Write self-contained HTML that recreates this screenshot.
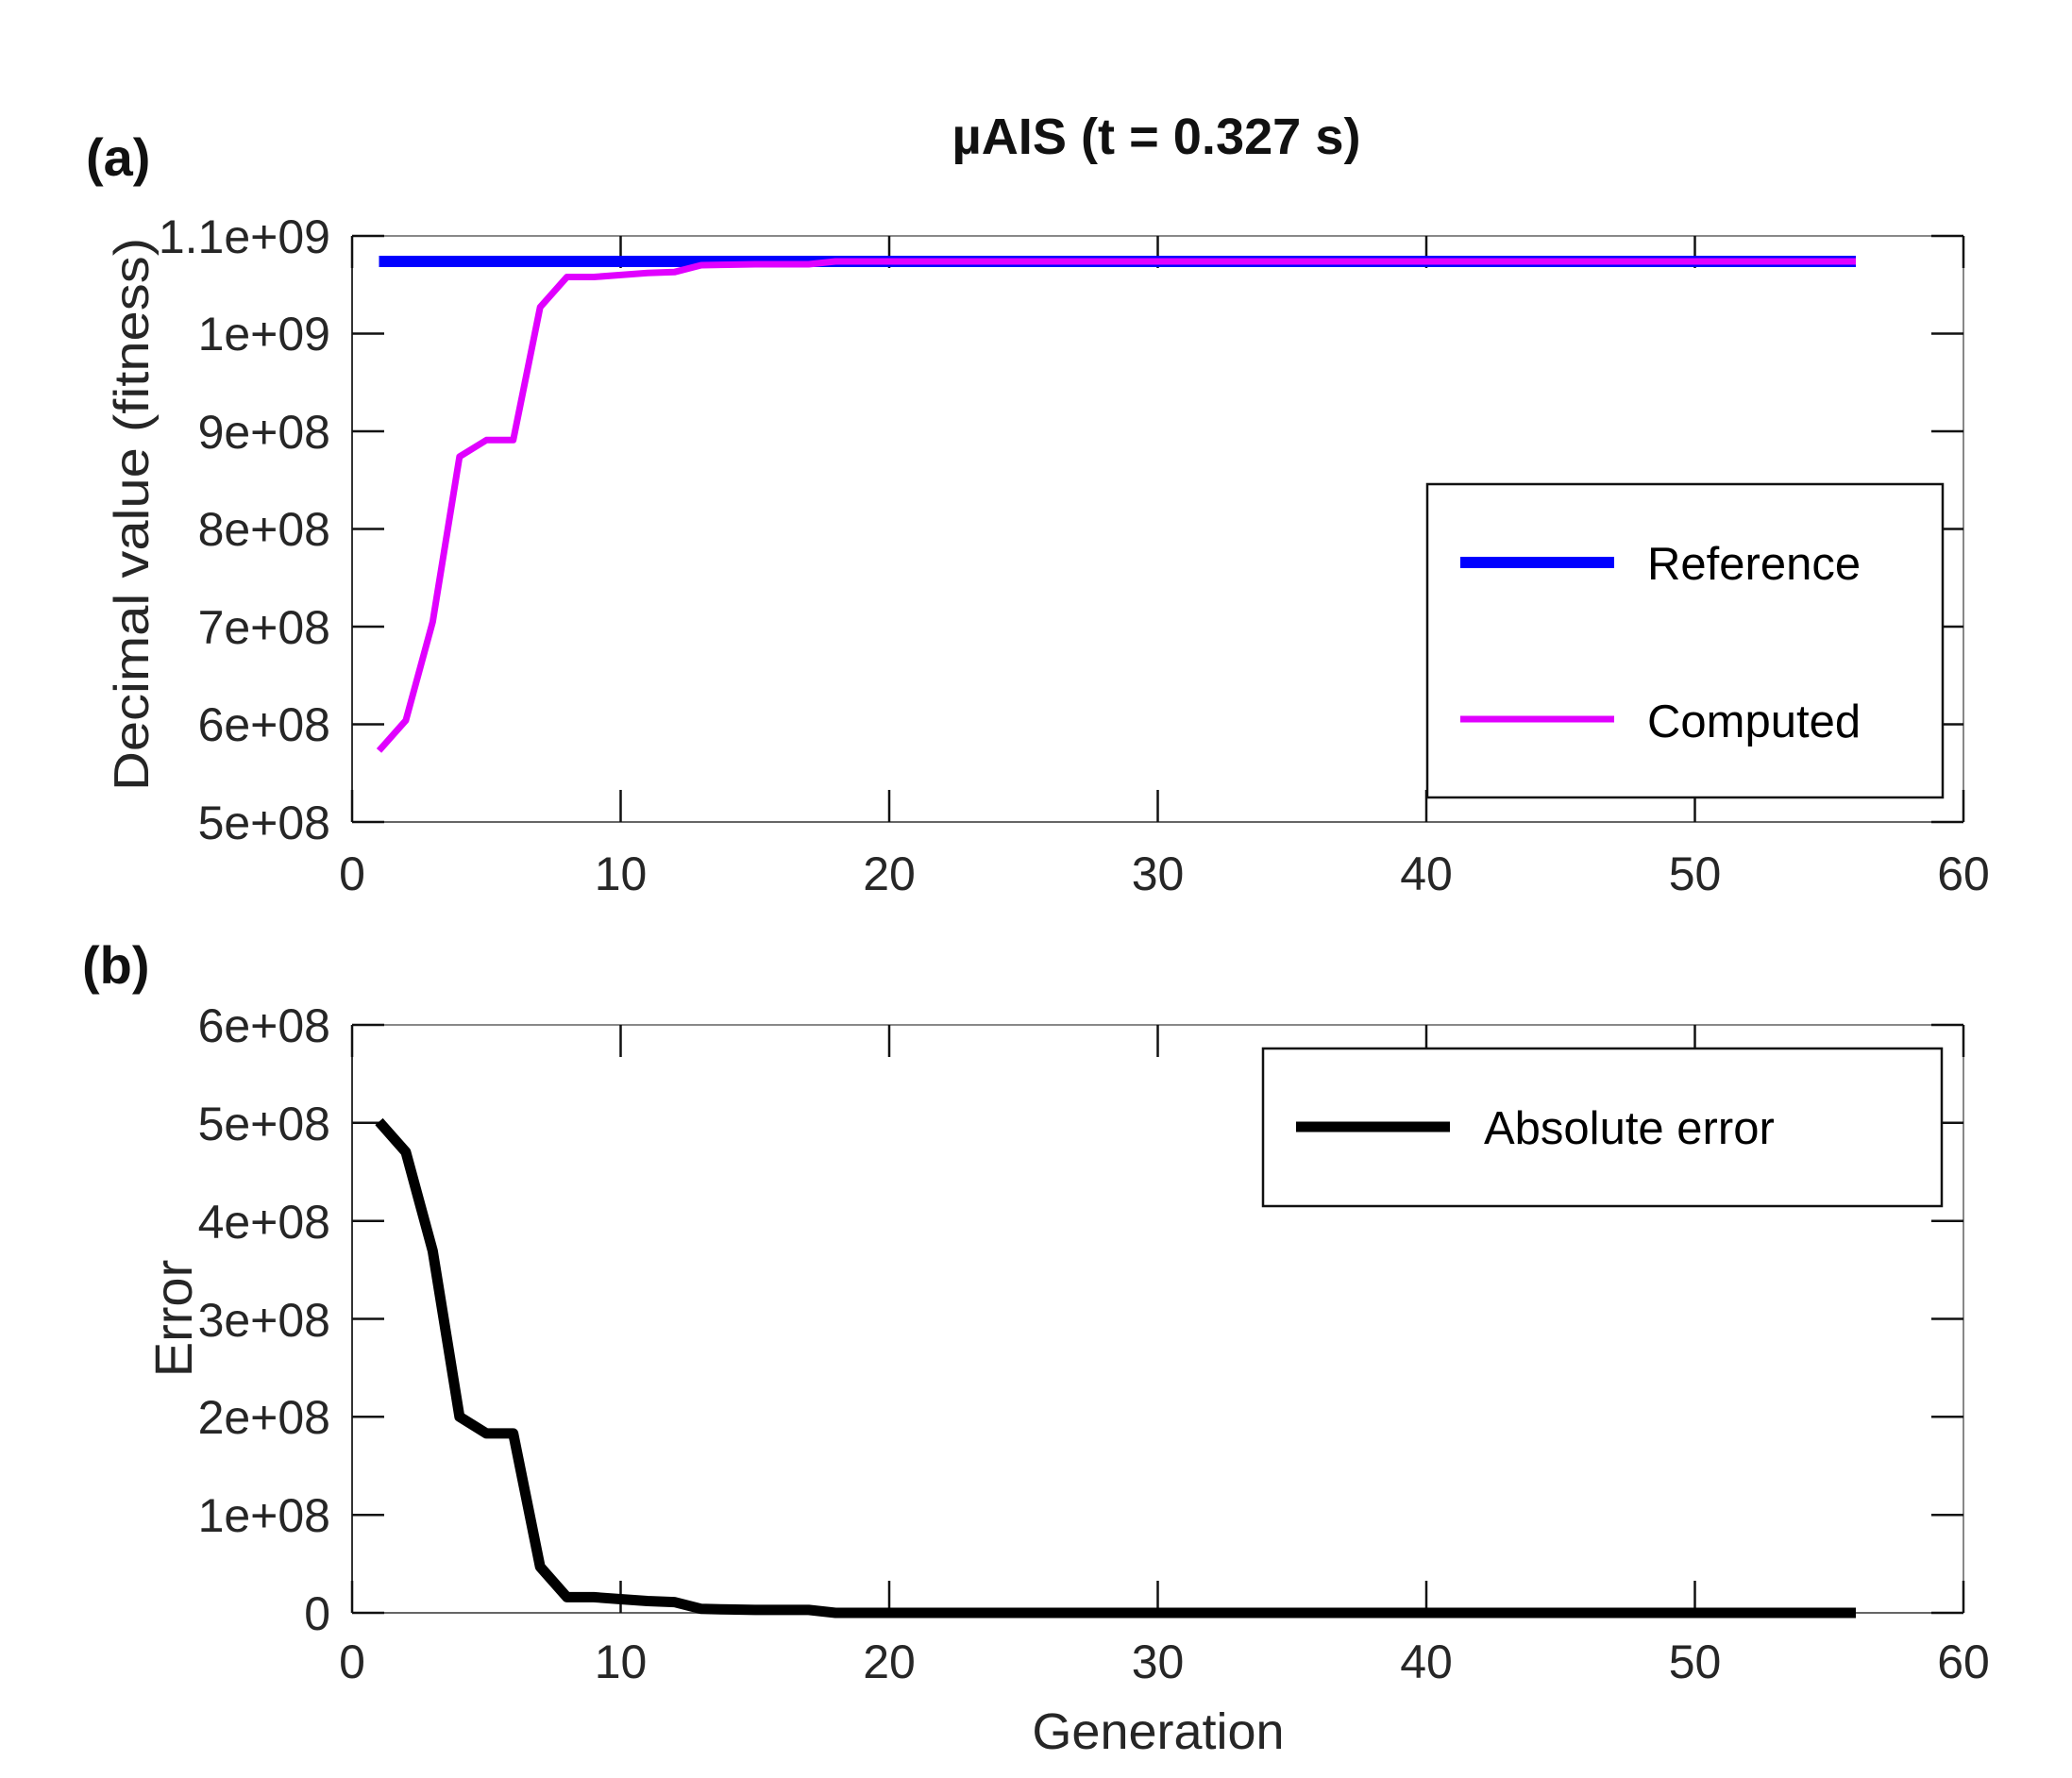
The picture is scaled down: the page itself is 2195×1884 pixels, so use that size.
<!DOCTYPE html>
<html><head><meta charset="utf-8"><style>
html,body{margin:0;padding:0;background:#fff;}
svg{display:block;}
text{font-family:"Liberation Sans",Arial,sans-serif;fill:#262626;}
</style></head><body>
<svg width="2195" height="1884" viewBox="0 0 2195 1884" xmlns="http://www.w3.org/2000/svg">
<rect width="2195" height="1884" fill="#fff"/>
<text x="1225" y="163" text-anchor="middle" font-size="54" font-weight="bold" style="fill:#111" textLength="433" lengthAdjust="spacingAndGlyphs">µAIS (t = 0.327 s)</text>
<text x="91" y="186" font-size="56" font-weight="bold" style="fill:#111">(a)</text>
<text x="87" y="1042" font-size="56" font-weight="bold" style="fill:#111">(b)</text>

<!-- ===== Plot A ===== -->
<g>
<line x1="373" y1="250" x2="2080" y2="250" stroke="#888" stroke-width="2"/>
<line x1="2080" y1="250" x2="2080" y2="871" stroke="#888" stroke-width="2"/>
<line x1="373" y1="871" x2="2080" y2="871" stroke="#666" stroke-width="2"/>
<line x1="373" y1="250" x2="373" y2="871" stroke="#333" stroke-width="2"/>
<g stroke="#111" stroke-width="2.5">
<line x1="373" y1="250" x2="407" y2="250"/><line x1="2046" y1="250" x2="2080" y2="250"/>
<line x1="373" y1="353.5" x2="407" y2="353.5"/><line x1="2046" y1="353.5" x2="2080" y2="353.5"/>
<line x1="373" y1="457" x2="407" y2="457"/><line x1="2046" y1="457" x2="2080" y2="457"/>
<line x1="373" y1="560.5" x2="407" y2="560.5"/><line x1="2046" y1="560.5" x2="2080" y2="560.5"/>
<line x1="373" y1="664" x2="407" y2="664"/><line x1="2046" y1="664" x2="2080" y2="664"/>
<line x1="373" y1="767.5" x2="407" y2="767.5"/><line x1="2046" y1="767.5" x2="2080" y2="767.5"/>
<line x1="373" y1="871" x2="407" y2="871"/><line x1="2046" y1="871" x2="2080" y2="871"/>
<line x1="373" y1="250" x2="373" y2="284"/><line x1="373" y1="837" x2="373" y2="871"/>
<line x1="657.5" y1="250" x2="657.5" y2="284"/><line x1="657.5" y1="837" x2="657.5" y2="871"/>
<line x1="942" y1="250" x2="942" y2="284"/><line x1="942" y1="837" x2="942" y2="871"/>
<line x1="1226.5" y1="250" x2="1226.5" y2="284"/><line x1="1226.5" y1="837" x2="1226.5" y2="871"/>
<line x1="1511" y1="250" x2="1511" y2="284"/><line x1="1511" y1="837" x2="1511" y2="871"/>
<line x1="1795.5" y1="250" x2="1795.5" y2="284"/><line x1="1795.5" y1="837" x2="1795.5" y2="871"/>
<line x1="2080" y1="250" x2="2080" y2="284"/><line x1="2080" y1="837" x2="2080" y2="871"/>
</g>
<g font-size="50" text-anchor="end">
<text x="350" y="268">1.1e+09</text>
<text x="350" y="371">1e+09</text>
<text x="350" y="475">9e+08</text>
<text x="350" y="578">8e+08</text>
<text x="350" y="682">7e+08</text>
<text x="350" y="785">6e+08</text>
<text x="350" y="889">5e+08</text>
</g>
<g font-size="50" text-anchor="middle">
<text x="373" y="943">0</text><text x="657.5" y="943">10</text><text x="942" y="943">20</text>
<text x="1226.5" y="943">30</text><text x="1511" y="943">40</text><text x="1795.5" y="943">50</text><text x="2080" y="943">60</text>
</g>
<text transform="translate(157,545) rotate(-90)" font-size="52" text-anchor="middle" textLength="586" lengthAdjust="spacingAndGlyphs">Decimal value  (fitness)</text>
<line x1="401.5" y1="277" x2="1966" y2="277" stroke="#0000ff" stroke-width="12"/>
<polyline fill="none" stroke="#e000ff" stroke-width="7" stroke-linejoin="round" points="401.5,795.4 429.9,763.4 458.4,658.8 486.8,483.9 515.3,466.3 543.7,466.3 572.2,325.5 600.6,293.5 629.1,293.5 657.5,291.4 686,289.3 714.4,288.3 742.9,281 771.3,280.5 799.8,280 828.2,280 856.7,280 885.1,277 1966,277"/>
<rect x="1512" y="513" width="546" height="332" fill="#fff" stroke="#111" stroke-width="2.5"/>
<line x1="1547" y1="596" x2="1710" y2="596" stroke="#0000ff" stroke-width="12"/>
<line x1="1547" y1="762" x2="1710" y2="762" stroke="#e000ff" stroke-width="7"/>
<text x="1745" y="614" font-size="49" style="fill:#000">Reference</text>
<text x="1745" y="781" font-size="49" style="fill:#000">Computed</text>
</g>

<!-- ===== Plot B ===== -->
<g>
<line x1="373" y1="1086" x2="2080" y2="1086" stroke="#888" stroke-width="2"/>
<line x1="2080" y1="1086" x2="2080" y2="1709" stroke="#888" stroke-width="2"/>
<line x1="373" y1="1709" x2="2080" y2="1709" stroke="#666" stroke-width="2"/>
<line x1="373" y1="1086" x2="373" y2="1709" stroke="#333" stroke-width="2"/>
<g stroke="#111" stroke-width="2.5">
<line x1="373" y1="1086" x2="407" y2="1086"/><line x1="2046" y1="1086" x2="2080" y2="1086"/>
<line x1="373" y1="1189.8" x2="407" y2="1189.8"/><line x1="2046" y1="1189.8" x2="2080" y2="1189.8"/>
<line x1="373" y1="1293.7" x2="407" y2="1293.7"/><line x1="2046" y1="1293.7" x2="2080" y2="1293.7"/>
<line x1="373" y1="1397.5" x2="407" y2="1397.5"/><line x1="2046" y1="1397.5" x2="2080" y2="1397.5"/>
<line x1="373" y1="1501.3" x2="407" y2="1501.3"/><line x1="2046" y1="1501.3" x2="2080" y2="1501.3"/>
<line x1="373" y1="1605.2" x2="407" y2="1605.2"/><line x1="2046" y1="1605.2" x2="2080" y2="1605.2"/>
<line x1="373" y1="1709" x2="407" y2="1709"/><line x1="2046" y1="1709" x2="2080" y2="1709"/>
<line x1="373" y1="1086" x2="373" y2="1120"/><line x1="373" y1="1675" x2="373" y2="1709"/>
<line x1="657.5" y1="1086" x2="657.5" y2="1120"/><line x1="657.5" y1="1675" x2="657.5" y2="1709"/>
<line x1="942" y1="1086" x2="942" y2="1120"/><line x1="942" y1="1675" x2="942" y2="1709"/>
<line x1="1226.5" y1="1086" x2="1226.5" y2="1120"/><line x1="1226.5" y1="1675" x2="1226.5" y2="1709"/>
<line x1="1511" y1="1086" x2="1511" y2="1120"/><line x1="1511" y1="1675" x2="1511" y2="1709"/>
<line x1="1795.5" y1="1086" x2="1795.5" y2="1120"/><line x1="1795.5" y1="1675" x2="1795.5" y2="1709"/>
<line x1="2080" y1="1086" x2="2080" y2="1120"/><line x1="2080" y1="1675" x2="2080" y2="1709"/>
</g>
<g font-size="50" text-anchor="end">
<text x="350" y="1104">6e+08</text>
<text x="350" y="1208">5e+08</text>
<text x="350" y="1312">4e+08</text>
<text x="350" y="1416">3e+08</text>
<text x="350" y="1519">2e+08</text>
<text x="350" y="1623">1e+08</text>
<text x="350" y="1727">0</text>
</g>
<g font-size="50" text-anchor="middle">
<text x="373" y="1778">0</text><text x="657.5" y="1778">10</text><text x="942" y="1778">20</text>
<text x="1226.5" y="1778">30</text><text x="1511" y="1778">40</text><text x="1795.5" y="1778">50</text><text x="2080" y="1778">60</text>
</g>
<text transform="translate(203,1397) rotate(-90)" font-size="56" text-anchor="middle">Error</text>
<text x="1227" y="1853" font-size="54" text-anchor="middle">Generation</text>
<polyline fill="none" stroke="#000" stroke-width="11" stroke-linejoin="round" points="401.5,1188.5 429.9,1220.7 458.4,1325.6 486.8,1501.2 515.3,1518.9 543.7,1518.9 572.2,1660.2 600.6,1692.4 629.1,1692.4 657.5,1694.5 686,1696.5 714.4,1697.6 742.9,1704.8 771.3,1705.4 799.8,1705.9 828.2,1705.9 856.7,1705.9 885.1,1709 1966,1709"/>
<rect x="1338" y="1111" width="719" height="167" fill="#fff" stroke="#111" stroke-width="2.5"/>
<line x1="1373" y1="1194" x2="1536" y2="1194" stroke="#000" stroke-width="11"/>
<text x="1572" y="1212" font-size="49" style="fill:#000">Absolute error</text>
</g>
</svg>
</body></html>
